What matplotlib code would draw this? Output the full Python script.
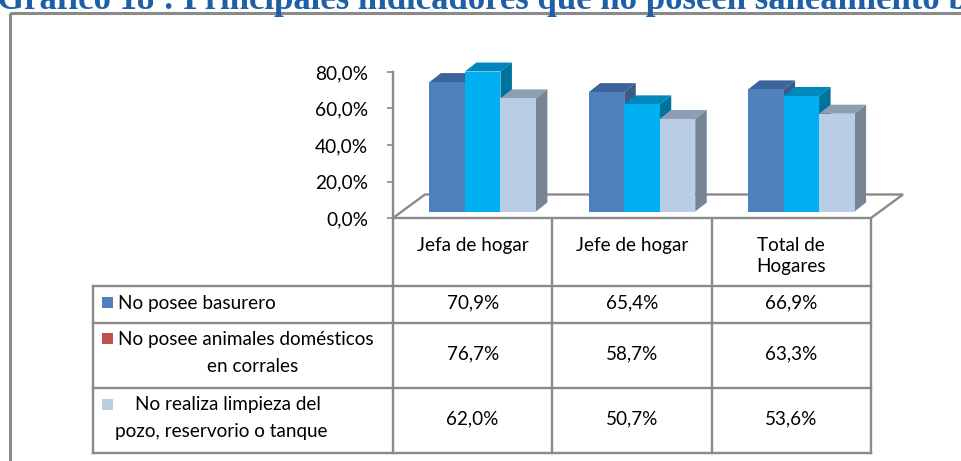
import matplotlib
matplotlib.use("Agg")
import matplotlib.pyplot as plt
from matplotlib.patches import Polygon, Rectangle
from matplotlib.lines import Line2D
from matplotlib.ticker import FuncFormatter

# ---------------- data ----------------
categories = ["Jefa de hogar", "Jefe de hogar", "Total de\nHogares"]
series_names = ["No posee basurero",
                "No posee animales domésticos\nen corrales",
                "No realiza limpieza del\npozo, reservorio o tanque"]
basurero = [70.9, 65.4, 66.9]
animales = [76.7, 58.7, 63.3]
limpieza = [62.0, 50.7, 53.6]
yticks = [0, 20, 40, 60, 80]
title = "Gráfico 18 : Principales indicadores que no poseen saneamiento básico"

series = [basurero, animales, limpieza]
front_cols = ["#4F81BD", "#00B0F0", "#B9CDE5"]
top_cols = ["#3C649A", "#0088BC", "#8E9EB3"]
side_cols = ["#3A5A88", "#00729E", "#778494"]
key_cols = ["#4F81BD", "#C0504D", "#B9CDE5"]

W, H = 961, 461
FONT = ["Lato", "DejaVu Sans"]
plt.rcParams["font.family"] = FONT
fig = plt.figure(figsize=(W / 100, H / 100), dpi=100)

# pixel overlay
pix = fig.add_axes([0, 0, 1, 1], zorder=0)
pix.set_xlim(0, W)
pix.set_ylim(H, 0)
pix.axis("off")

def line(xs, ys, lw=1.7, c="#8A8A8A", z=2):
    pix.add_line(Line2D(xs, ys, lw=lw, color=c, zorder=z, solid_capstyle="projecting"))

# outer frame
pix.add_patch(Rectangle((10, 13), 1000, 500, fill=False, ec="#8A8A8A", lw=2.2, zorder=1))
# title (cropped at top)
pix.text(-3, 9, title, color="#1F5FA6", fontsize=25, fontweight="bold",
         family=["Liberation Serif", "DejaVu Serif"], ha="left", va="baseline", zorder=3)

# chart axes geometry (pixels)
x0, x1 = 393, 871
y0, y80 = 218, 72
ax = fig.add_axes([x0 / W, (H - y0) / H, (x1 - x0) / W, (y0 - y80) / H], zorder=2)
ax.patch.set_alpha(0)
ax.set_xlim(0, 3)
ax.set_ylim(0, 80)
ppu_x = (x1 - x0) / 3.0
ppu_y = (y0 - y80) / 80.0

# floor (3D)
fdx, fdy = 32 / ppu_x, 23.5 / ppu_y
floor = Polygon([(0, 0), (fdx, fdy), (3 + fdx, fdy), (3, 0)], closed=True,
                fc="white", ec="#8A8A8A", lw=1.7, clip_on=False, zorder=1)
ax.add_patch(floor)

# bars
base = 6.5 / ppu_y
bw = 35.5 / ppu_x
ddx, ddy = 11.5 / ppu_x, 9 / ppu_y
shift = 10 / ppu_x
for si, vals in enumerate(series):
    xs = [i + 0.5 + shift + (si - 1) * bw for i in range(len(vals))]
    ax.bar(xs, vals, width=bw, bottom=base, color=front_cols[si], lw=0,
           zorder=3 + si * 0.1, clip_on=False)
    for xc, v in zip(xs, vals):
        l, r = xc - bw / 2, xc + bw / 2
        t = base + v
        ax.add_patch(Polygon([(l, t), (l + ddx, t + ddy), (r + ddx, t + ddy), (r, t)],
                             fc=top_cols[si], lw=0, clip_on=False, zorder=2.9 + si * 0.1))
        ax.add_patch(Polygon([(r, base), (r + ddx, base + ddy), (r + ddx, t + ddy), (r, t)],
                             fc=side_cols[si], lw=0, clip_on=False, zorder=2.9 + si * 0.1))

for s in ["top", "right", "bottom"]:
    ax.spines[s].set_visible(False)
ax.spines["left"].set_color("#8A8A8A")
ax.spines["left"].set_linewidth(1.7)
ax.set_xticks([])
ax.set_yticks(yticks)
ax.yaxis.set_major_formatter(FuncFormatter(lambda v, p: f"{v:.1f}%".replace(".", ",")))
ax.tick_params(axis="y", length=4, width=1.2, color="#8A8A8A", pad=14,
               labelsize=13.8, labelcolor="#000000")

# ---------------- data table ----------------
rows_y = [286, 323, 388, 453]
cols_x = [x0 + i * (x1 - x0) / 3 for i in range(4)]
tleft = 93
for i, cx in enumerate(cols_x):
    line([cx, cx], [y0, rows_y[-1]])
line([tleft, tleft], [rows_y[0], rows_y[-1]])
for ry in rows_y:
    line([tleft, x1], [ry, ry])

fs = 13.6
for i, cat in enumerate(categories):
    cx = (cols_x[i] + cols_x[i + 1]) / 2
    pix.text(cx, 237, cat, ha="center", va="top", fontsize=fs, linespacing=1.3, zorder=3)

row_centers = [303, 354, 419]
for si, vals in enumerate(series):
    for i, v in enumerate(vals):
        cx = (cols_x[i] + cols_x[i + 1]) / 2
        pix.text(cx, row_centers[si], f"{v:.1f}%".replace(".", ","), ha="center",
                 va="center", fontsize=fs, zorder=3)

# row headers (legend key + label)
key_y = [303, 339, 405]
for si in range(3):
    pix.add_patch(Rectangle((102, key_y[si] - 6), 11, 11, fc=key_cols[si], ec="none", zorder=3))
lab = series_names
pix.text(118, 303, lab[0], ha="left", va="center", fontsize=fs, zorder=3)
l2 = lab[1].split("\n")
pix.text(118, 339, l2[0], ha="left", va="center", fontsize=fs, zorder=3)
pix.text(253, 366, l2[1], ha="center", va="center", fontsize=fs, zorder=3)
l3 = lab[2].split("\n")
pix.text(135, 404, l3[0], ha="left", va="center", fontsize=fs, zorder=3)
pix.text(221, 431, l3[1], ha="center", va="center", fontsize=fs, zorder=3)

fig.savefig("out.png", dpi=100)
